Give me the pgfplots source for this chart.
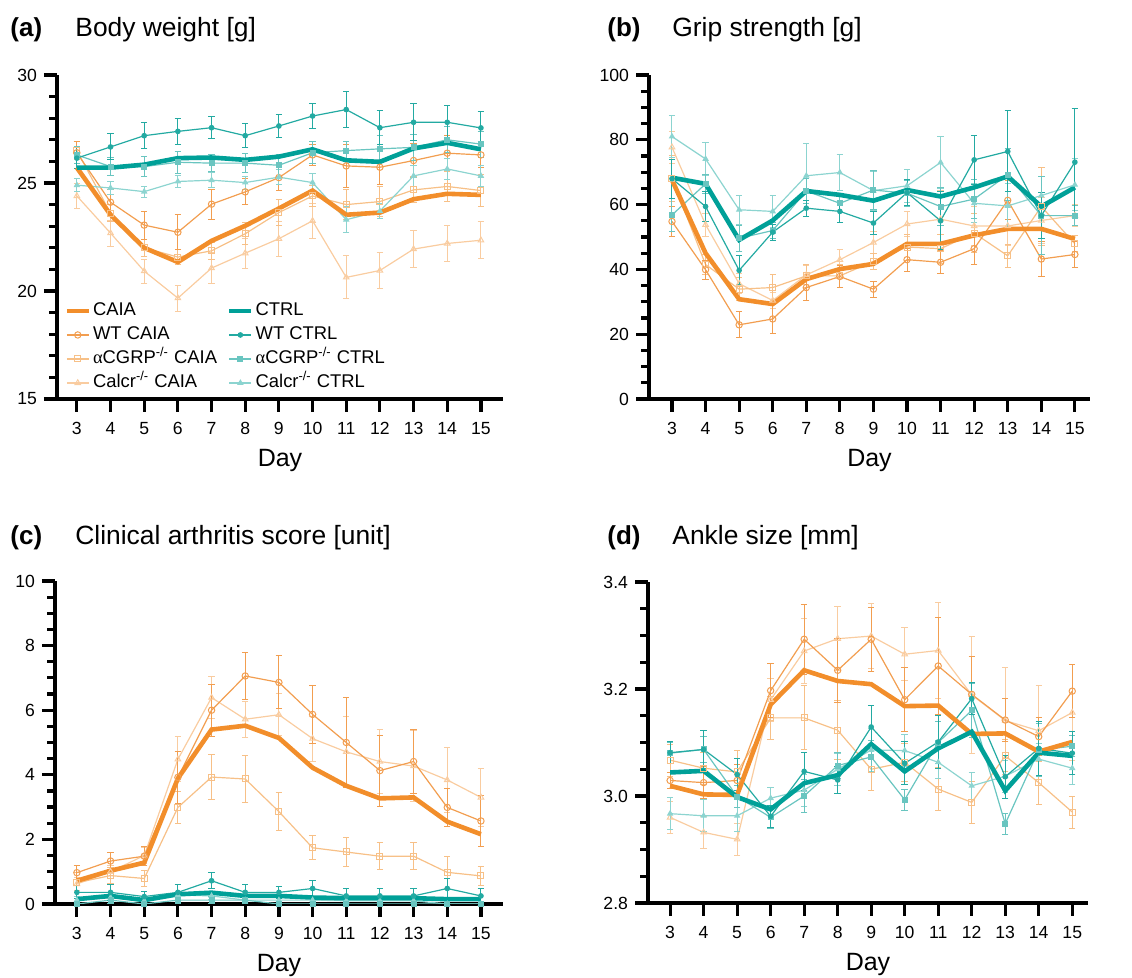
\documentclass[border=0pt]{standalone}
\usepackage{pgfplots}
\usepackage{pgfplotstable}
\pgfplotsset{compat=1.18}
\usepackage{fontspec}
\setmainfont{Liberation Sans}
\newfontfamily\serifg{Liberation Serif}

\definecolor{cCAIA}{RGB}{242,142,43}
\definecolor{cWC}{RGB}{242,158,80}
\definecolor{cAC}{RGB}{247,192,135}
\definecolor{cCC}{RGB}{249,204,160}
\definecolor{cCTRL}{RGB}{0,160,152}
\definecolor{cWT}{RGB}{35,170,162}
\definecolor{cAT}{RGB}{105,197,192}
\definecolor{cCT}{RGB}{140,212,208}

% d caia ctrl wc wce ac ace cc cce wt wte at ate ct cte
\pgfplotstableread{
d caia ctrl wc wce ac ace cc cce wt wte at ate ct cte
3 25.71 25.71 26.40 0.50 26.50 0.40 24.40 0.60 26.15 0.50 26.30 0.40 24.90 0.30
4 23.53 25.71 24.11 0.60 23.60 0.40 22.68 0.60 26.67 0.60 25.76 0.40 24.77 0.30
5 22.00 25.85 23.05 0.65 22.00 0.40 20.92 0.55 27.19 0.60 25.76 0.45 24.60 0.25
6 21.34 26.15 22.72 0.80 21.57 0.35 19.67 0.60 27.39 0.60 25.96 0.50 25.07 0.30
7 22.32 26.18 24.02 0.70 21.86 0.40 21.06 0.70 27.56 0.50 25.92 0.40 25.13 0.35
8 23.02 26.07 24.59 0.60 22.65 0.50 21.75 0.70 27.19 0.55 25.92 0.45 25.02 0.30
9 23.82 26.22 25.25 0.60 23.63 0.60 22.42 0.80 27.64 0.55 25.82 0.50 25.27 0.35
10 24.65 26.56 26.30 0.50 24.40 0.50 23.25 0.80 28.10 0.60 26.40 0.50 25.02 0.40
11 23.53 26.05 25.79 1.00 24.00 0.70 20.63 1.00 28.40 0.85 26.50 0.40 23.30 0.60
12 23.63 25.98 25.73 0.80 24.14 0.70 20.95 0.85 27.56 0.80 26.58 0.60 23.70 0.35
13 24.25 26.60 26.04 0.80 24.68 0.60 21.94 0.85 27.81 0.85 26.65 0.60 25.33 0.50
14 24.50 26.86 26.38 0.80 24.84 0.70 22.20 0.85 27.81 0.80 27.00 0.60 25.65 0.50
15 24.45 26.56 26.30 0.60 24.65 0.75 22.35 0.85 27.55 0.75 26.80 0.60 25.33 0.50
}\tA

\pgfplotstableread{
d caia ctrl wc wce ac ace cc cce wt wte at ate ct cte
3 67.6 68.3 54.8 4.5 68.0 7.0 77.7 5.0 68.0 6.0 56.8 5.0 81.0 6.5
4 45.0 66.4 39.9 3.0 41.5 3.0 53.8 3.5 59.4 4.5 66.4 3.0 74.1 5.0
5 30.8 49.1 22.9 4.0 33.9 3.5 35.6 3.0 39.7 4.5 49.6 4.0 58.4 4.5
6 29.3 55.1 24.7 4.5 34.4 4.0 30.4 2.5 51.5 2.5 52.0 2.5 57.9 5.0
7 37.0 64.2 34.4 4.0 38.0 3.5 38.3 3.0 58.9 2.5 64.2 4.0 68.9 10.0
8 40.1 63.0 37.8 3.5 38.0 3.5 43.0 3.0 57.9 3.5 60.4 2.5 69.9 5.5
9 41.7 61.2 33.9 2.5 42.5 2.5 48.3 3.5 54.3 3.5 64.5 6.0 64.3 6.0
10 47.9 64.5 43.0 3.5 46.9 4.0 54.0 4.0 63.7 4.0 63.5 4.0 65.8 5.0
11 47.9 62.5 42.2 3.5 46.4 4.5 55.5 9.0 55.0 9.0 59.4 6.0 73.0 8.0
12 50.5 65.3 46.4 5.0 51.2 6.0 53.4 6.0 73.8 7.5 61.7 6.0 60.4 6.0
13 52.5 68.7 61.3 6.0 44.2 3.5 53.4 6.0 76.4 12.5 69.2 8.0 59.6 7.0
14 52.5 59.4 43.2 5.5 59.4 12.0 55.1 7.0 56.6 7.0 56.6 12.0 62.8 6.0
15 49.4 65.3 44.6 4.0 47.9 2.5 56.6 3.5 73.1 16.5 56.6 3.0 66.1 8.0
}\tB

\pgfplotstableread{
d caia ctrl wc wce ac ace cc cce wt wte at ate ct cte
3 0.72 0.15 0.97 0.22 0.66 0.30 0.62 0.20 0.36 0.20 0.00 0.00 0.12 0.10
4 1.03 0.25 1.33 0.25 0.88 0.25 1.00 0.20 0.36 0.25 0.12 0.10 0.20 0.10
5 1.28 0.12 1.48 0.30 0.79 0.25 1.50 0.25 0.23 0.15 0.00 0.00 0.10 0.10
6 3.89 0.30 3.92 0.80 2.99 0.50 4.48 0.70 0.36 0.25 0.12 0.10 0.28 0.10
7 5.40 0.35 6.00 0.80 3.93 0.70 6.39 0.65 0.72 0.25 0.12 0.10 0.25 0.10
8 5.52 0.25 7.06 0.72 3.87 0.72 5.72 0.55 0.36 0.25 0.12 0.10 0.12 0.10
9 5.14 0.25 6.86 0.82 2.86 0.58 5.86 0.65 0.36 0.18 0.00 0.00 0.12 0.10
10 4.22 0.20 5.87 0.90 1.74 0.37 5.12 0.70 0.48 0.25 0.00 0.00 0.12 0.10
11 3.66 0.18 5.00 1.40 1.61 0.45 4.71 1.10 0.25 0.23 0.00 0.00 0.10 0.10
12 3.27 0.18 4.13 1.10 1.48 0.42 4.41 1.00 0.25 0.23 0.00 0.00 0.10 0.10
13 3.30 0.18 4.41 1.00 1.48 0.42 4.27 1.10 0.25 0.23 0.00 0.00 0.10 0.10
14 2.55 0.15 2.99 0.60 0.98 0.50 3.84 1.00 0.48 0.30 0.00 0.00 0.00 0.00
15 2.16 0.15 2.57 0.80 0.87 0.30 3.30 0.90 0.25 0.23 0.00 0.00 0.00 0.00
}\tC

\pgfplotstableread{
d caia ctrl wc wce ac ace cc cce wt wte at ate ct cte
3 3.019 3.044 3.029 0.015 3.067 0.030 2.960 0.030 3.081 0.020 3.080 0.020 2.967 0.030
4 3.003 3.047 3.025 0.030 3.052 0.030 2.932 0.030 3.087 0.035 3.087 0.025 2.963 0.030
5 3.002 2.998 3.029 0.030 3.045 0.040 2.919 0.030 3.040 0.030 2.999 0.020 2.963 0.030
6 3.171 2.975 3.197 0.050 3.146 0.040 3.180 0.040 2.962 0.020 2.960 0.020 2.996 0.020
7 3.235 3.024 3.293 0.065 3.146 0.060 3.271 0.060 3.046 0.035 3.000 0.030 3.011 0.030
8 3.215 3.039 3.235 0.060 3.123 0.055 3.294 0.060 3.030 0.025 3.057 0.025 3.050 0.030
9 3.209 3.097 3.293 0.060 3.050 0.040 3.299 0.060 3.129 0.040 3.073 0.030 3.086 0.040
10 3.168 3.046 3.180 0.060 3.063 0.035 3.265 0.050 3.061 0.040 2.993 0.020 3.085 0.030
11 3.169 3.089 3.243 0.090 3.013 0.040 3.272 0.090 3.101 0.050 3.100 0.040 3.063 0.030
12 3.116 3.120 3.190 0.070 2.988 0.040 3.189 0.110 3.182 0.030 3.160 0.050 3.019 0.025
13 3.117 3.010 3.142 0.040 3.075 0.030 3.141 0.100 3.036 0.040 2.948 0.020 3.037 0.030
14 3.083 3.081 3.111 0.035 3.025 0.040 3.122 0.085 3.089 0.050 3.086 0.050 3.069 0.030
15 3.101 3.075 3.196 0.050 2.970 0.030 3.156 0.090 3.080 0.040 3.093 0.020 3.052 0.030
}\tD

\pgfplotsset{
  prism/.style={
    scale only axis,
    axis x line=bottom, axis y line=left,
    axis line style={line width=1.6pt,-,black},
    every tick/.style={line width=1.6pt,black},
    tick align=outside,
    major tick length=6.5pt, minor tick length=3.8pt,
    xtick={3,...,15},
    ticklabel style={font=\fontsize{8.8}{9}\selectfont},
    xticklabel style={yshift=-1.5pt},
    /pgf/number format/assume math mode=true,
    xlabel={Day},
    xlabel style={font=\fontsize{12.5}{14}\selectfont, at={(axis description cs:0.5,0)}, anchor=base, yshift=-34pt},
    legend image code/.code={\draw[mark repeat=2,mark phase=2,#1] plot coordinates {(0pt,0pt) (5.5pt,0pt) (11pt,0pt)};},
    error bars/error bar style={line width=0.5pt,solid},
    error bars/error mark options={rotate=90,mark size=1.6pt,line width=0.5pt},
  },
  caiaS/.style={color=cCAIA,line width=2.3pt,no markers},
  ctrlS/.style={color=cCTRL,line width=2.3pt,no markers},
  wcS/.style={color=cWC,line width=0.6pt,mark=o,mark size=1.6pt,mark options={line width=0.5pt,fill=white}},
  acS/.style={color=cAC,line width=0.6pt,mark=square,mark size=1.5pt,mark options={line width=0.5pt,fill=white}},
  ccS/.style={color=cCC,line width=0.6pt,mark=triangle,mark size=1.6pt,mark options={line width=0.5pt}},
  wtS/.style={color=cWT,line width=0.6pt,mark=*,mark size=1.1pt},
  atS/.style={color=cAT,line width=0.6pt,mark=square*,mark size=1.2pt},
  ctS/.style={color=cCT,line width=0.6pt,mark=triangle*,mark size=1.3pt},
  eb/.style={error bars/.cd, y dir=both, y explicit},
}

\newcommand{\allseries}[1]{%
  \addplot[ccS,forget plot,eb] table[x=d,y=cc,y error=cce]{#1};
  \addplot[acS,forget plot,eb] table[x=d,y=ac,y error=ace]{#1};
  \addplot[wcS,forget plot,eb] table[x=d,y=wc,y error=wce]{#1};
  \addplot[ctS,forget plot,eb] table[x=d,y=ct,y error=cte]{#1};
  \addplot[atS,forget plot,eb] table[x=d,y=at,y error=ate]{#1};
  \addplot[wtS,forget plot,eb] table[x=d,y=wt,y error=wte]{#1};
  \addplot[caiaS,forget plot] table[x=d,y=caia]{#1};
  \addplot[ctrlS,forget plot] table[x=d,y=ctrl]{#1};
}

\begin{document}
\begin{tikzpicture}
% (a)
\begin{axis}[prism, at={(28.5pt,-199.5pt)}, anchor=south west,
  width=223pt, height=162pt, xmin=2.41, xmax=15.656, ymin=15, ymax=30,
  ytick={15,20,25,30}, minor y tick num=4,
  legend columns=2,
  legend style={at={(axis cs:2.62,19.65)}, anchor=north west, draw=none, fill=none,
    font=\fontsize{9.2}{10}\selectfont, row sep=0pt, inner sep=0pt,
    nodes={inner sep=1pt, text height=7.5pt, text depth=2.5pt},
    cells={anchor=west}},
  legend cell align=left,
  /tikz/every even column/.append style={column sep=4pt},
  ]
  \addlegendimage{caiaS}\addlegendentry{CAIA}
  \addlegendimage{ctrlS}\addlegendentry{CTRL}
  \addlegendimage{wcS}\addlegendentry{WT CAIA}
  \addlegendimage{wtS}\addlegendentry{WT CTRL}
  \addlegendimage{acS}\addlegendentry{{\serifg α}CGRP\textsuperscript{-/-} CAIA}
  \addlegendimage{atS}\addlegendentry{{\serifg α}CGRP\textsuperscript{-/-} CTRL}
  \addlegendimage{ccS}\addlegendentry{Calcr\textsuperscript{-/-} CAIA}
  \addlegendimage{ctS}\addlegendentry{Calcr\textsuperscript{-/-} CTRL}
  \allseries{\tA}
\end{axis}
% (b)
\begin{axis}[prism, at={(324.5pt,-199.5pt)}, anchor=south west,
  width=220.5pt, height=162pt, xmin=2.315, xmax=15.45, ymin=0, ymax=100,
  ytick={0,20,...,100}, minor y tick num=3]
  \allseries{\tB}
\end{axis}
% (c)
\begin{axis}[prism, at={(27.5pt,-452pt)}, anchor=south west,
  width=224pt, height=161.5pt, xmin=2.35, xmax=15.655, ymin=0, ymax=10,
  ytick={0,2,...,10}, minor y tick num=3]
  \allseries{\tC}
\end{axis}
% (d)
\begin{axis}[prism, at={(324pt,-451.5pt)}, anchor=south west,
  width=220pt, height=160.5pt, xmin=2.34, xmax=15.47, ymin=2.8, ymax=3.4,
  ytick={2.8,3.0,3.2,3.4}, minor y tick num=3,
  yticklabel style={/pgf/number format/.cd,fixed,fixed zerofill,precision=1}]
  \allseries{\tD}
\end{axis}
% titles
\node[anchor=base west,font=\bfseries\fontsize{13}{16}\selectfont,inner sep=0pt] at (5pt,-18.5pt) {(a)};
\node[anchor=base west,font=\fontsize{13.2}{16}\selectfont,inner sep=0pt] at (37.5pt,-18.5pt) {Body weight [g]};
\node[anchor=base west,font=\bfseries\fontsize{13}{16}\selectfont,inner sep=0pt] at (303.5pt,-18.5pt) {(b)};
\node[anchor=base west,font=\fontsize{13.2}{16}\selectfont,inner sep=0pt] at (336pt,-18.5pt) {Grip strength [g]};
\node[anchor=base west,font=\bfseries\fontsize{13}{16}\selectfont,inner sep=0pt] at (5pt,-272.5pt) {(c)};
\node[anchor=base west,font=\fontsize{13.2}{16}\selectfont,inner sep=0pt] at (37.5pt,-272.5pt) {Clinical arthritis score [unit]};
\node[anchor=base west,font=\bfseries\fontsize{13}{16}\selectfont,inner sep=0pt] at (303.5pt,-272.5pt) {(d)};
\node[anchor=base west,font=\fontsize{13.2}{16}\selectfont,inner sep=0pt] at (336pt,-272.5pt) {Ankle size [mm]};
\pgfresetboundingbox
\useasboundingbox (0pt,0pt) rectangle (566pt,-489pt);
\end{tikzpicture}
\end{document}
